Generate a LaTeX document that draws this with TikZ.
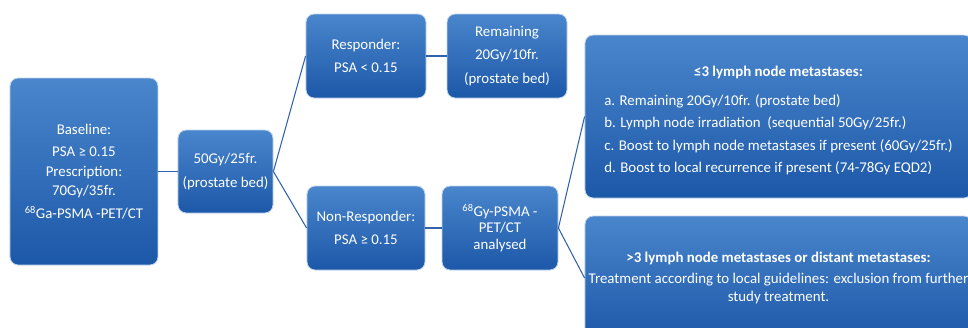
\documentclass[tikz,border=0pt]{standalone}
\usepackage{fontspec}
\setmainfont{Carlito}
\definecolor{boxtop}{RGB}{74,134,204}
\definecolor{boxbot}{RGB}{28,88,168}
\definecolor{linkblue}{RGB}{50,98,172}
\begin{document}
\begin{tikzpicture}[x=0.03cm,y=-0.03cm]
\tikzset{box style/.style = {rounded corners=7pt, draw=white!65!boxtop, line width=0.7pt,
    top color=boxtop, bottom color=boxbot, text=white, align=center, inner sep=2pt,
    font=\fontsize{12.7}{16}\selectfont},
  link style/.style = {draw=linkblue, line width=0.9pt}}
\clip (0,0) rectangle (968,327);
\useasboundingbox (0,0) rectangle (968,327);
% boxes
\node[box style, minimum width=4.44cm, minimum height=5.61cm] (base) at (84,171.5)
  {Baseline:\\[3pt] PSA ≥ 0.15\\[1pt] Prescription:\\ 70Gy/35fr.\\[4pt] \textsuperscript{68}Ga-PSMA -PET/CT};
\node[box style, minimum width=2.85cm, minimum height=2.49cm] (dose) at (225.5,171.5)
  {50Gy/25fr.\\[5pt] (prostate bed)};
\node[box style, minimum width=3.6cm, minimum height=2.52cm] (resp) at (366,56)
  {Responder:\\[4pt] PSA < 0.15};
\node[box style, minimum width=3.6cm, minimum height=2.52cm] (remain) at (507,56)
  {Remaining\\[4pt] 20Gy/10fr.\\[4pt] (prostate bed)};
\node[box style, minimum width=3.54cm, minimum height=2.52cm] (nonresp) at (366,228)
  {Non-Responder:\\[4pt] PSA ≥ 0.15};
\node[box style, minimum width=3.48cm, minimum height=2.52cm] (pet) at (500,228)
  {\textsuperscript{68}Gy-PSMA -\\[-2pt] PET/CT\\[-2pt] analysed};
\node[box style, minimum width=11.61cm, minimum height=4.89cm] (few) at (778.5,116.5)
  {{\bfseries\rule{0pt}{20pt}≤3 lymph node metastases:}\\[8pt]
   \renewcommand{\arraystretch}{1.2}%
   \begin{tabular}{@{}l@{}}
   a. Remaining 20Gy/10fr. (prostate bed)\\
   b. Lymph node irradiation\ \ (sequential 50Gy/25fr.)\\
   c. Boost to lymph node metastases if present (60Gy/25fr.)\\
   d. Boost to local recurrence if present (74-78Gy EQD2)
   \end{tabular}};
\node[box style, minimum width=11.61cm, minimum height=3.72cm] (many) at (778.5,278)
  {{\bfseries >3 lymph node metastases or distant metastases:}\\[2pt]
   Treatment according to local guidelines: exclusion from further\\ study treatment.};
% connectors
\draw[link style] (base.east) -- (dose.west);
\draw[link style] (dose.east) -- (resp.west);
\draw[link style] (dose.east) -- (nonresp.west);
\draw[link style] (resp.east) -- (remain.west);
\draw[link style] (nonresp.east) -- (pet.west);
\draw[link style] (pet.east) -- (few.west);
\draw[link style] (pet.east) -- (many.west);
\end{tikzpicture}
\end{document}
